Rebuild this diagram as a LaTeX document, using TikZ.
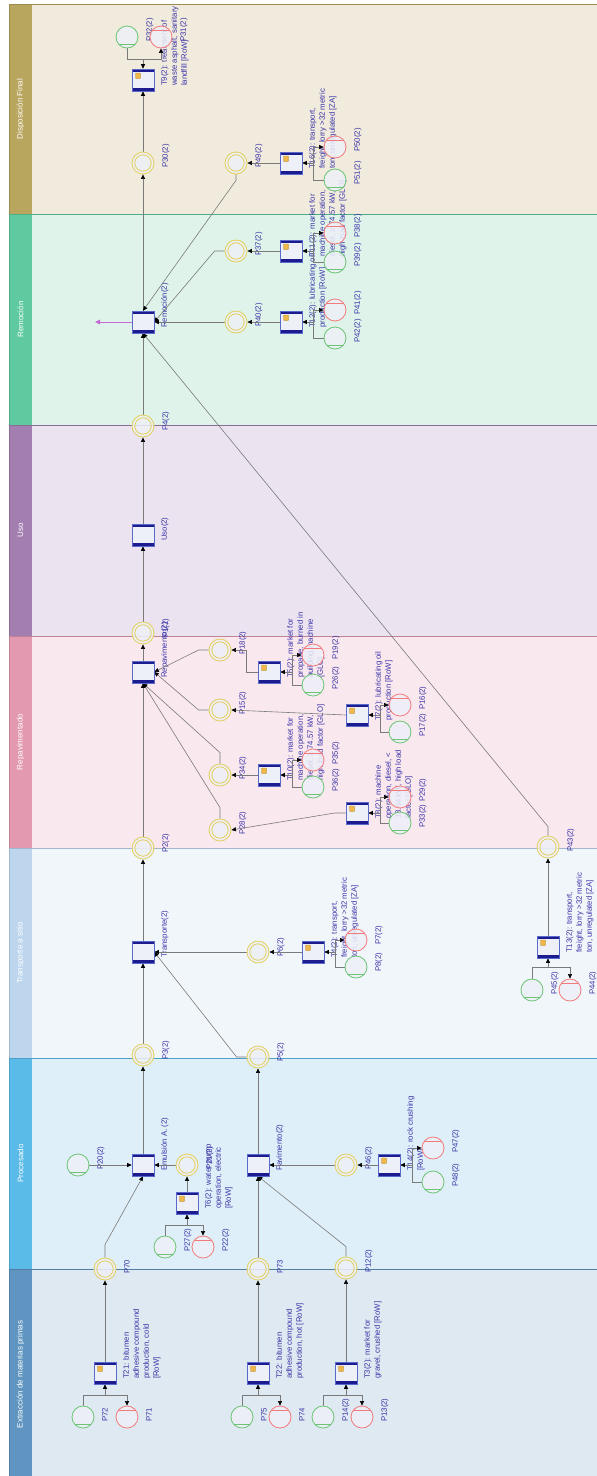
\documentclass[tikz,border=0pt]{standalone}
\usepackage{fontspec}
\setmainfont{Liberation Sans}
\usetikzlibrary{arrows.meta,calc}
\definecolor{plfill}{HTML}{EEF0F8}
\definecolor{yelc}{HTML}{E2CF5C}
\definecolor{grnc}{HTML}{6CC474}
\definecolor{redc}{HTML}{F27A7A}
\definecolor{trc}{HTML}{5A6AC8}
\definecolor{navyc}{HTML}{1C1C90}
\definecolor{icoc}{HTML}{F0B848}
\definecolor{edgec}{HTML}{7A7A7A}
\definecolor{lblc}{HTML}{3A33A8}
\definecolor{purpc}{HTML}{C46AD6}
\definecolor{sDisp}{HTML}{B8A55E}\definecolor{bDisp}{HTML}{F0EBDD}
\definecolor{sRem}{HTML}{5FCAA0}\definecolor{bRem}{HTML}{DFF3EA}
\definecolor{sUso}{HTML}{A27FB0}\definecolor{bUso}{HTML}{ECE3F0}
\definecolor{sRep}{HTML}{E39AB0}\definecolor{bRep}{HTML}{FAE8EF}
\definecolor{sTra}{HTML}{BDD6EE}\definecolor{bTra}{HTML}{F1F6FB}
\definecolor{sPro}{HTML}{5BBBE8}\definecolor{bPro}{HTML}{DFEFF9}
\definecolor{sExt}{HTML}{5F95C0}\definecolor{bExt}{HTML}{DEE9F1}
\pgfdeclarelayer{bglayer}
\pgfdeclarelayer{lbllayer}
\pgfdeclarelayer{edglayer}
\pgfsetlayers{bglayer,lbllayer,edglayer,main}
\newcommand\mybars{%
  \fill[navyc] (path picture bounding box.north west) rectangle ([yshift=-3.2pt]path picture bounding box.north east);
  \fill[navyc] (path picture bounding box.south west) rectangle ([yshift=3.2pt]path picture bounding box.south east);}
\newcommand\mylane[6]{%
  \fill[#5] (9,#2) rectangle (600,#3);
  \fill[#4] (9,#2) rectangle (32,#3);
  \draw[#4!85!black, line width=0.7pt] (9,#2) rectangle (600,#3);
  \node[lanelbl] (#1) at (20.5,{(#2+#3)/2}) {#6};}
\newcommand\myplab[2]{\node[lbl] (l#1) at ($(#1)+(19,5)$) {#2};}
\newcommand\mytlab[2]{\node[lbl] (l#1) at ($(#1)+(18,6)$) {#2};}
\tikzset{
  pl/.style={circle, minimum size=22pt, inner sep=0pt, fill=plfill, fill opacity=0.85, line width=0.8pt},
  yel/.style={pl, draw=yelc, path picture={\draw[yelc, line width=0.8pt] (path picture bounding box.center) circle (8.2pt);}},
  grn/.style={pl, draw=grnc, path picture={\draw[grnc, line width=0.8pt] ([xshift=-12pt,yshift=-7pt]path picture bounding box.center) -- ++(24pt,0pt);}},
  red/.style={pl, draw=redc, path picture={\draw[redc, line width=0.8pt] ([xshift=-12pt,yshift=7pt]path picture bounding box.center) -- ++(24pt,0pt);}},
  tr/.style={rectangle, minimum width=22pt, minimum height=22pt, inner sep=0pt, draw=trc, line width=0.6pt, fill=plfill, path picture={\mybars}},
  tri/.style={tr, path picture={\mybars
     \fill[icoc, draw=icoc!70!black, line width=0.3pt, rounded corners=0.6pt] ([xshift=-7.5pt,yshift=1.5pt]path picture bounding box.center) rectangle ([xshift=-2.5pt,yshift=7pt]path picture bounding box.center);}},
  lbl/.style={rotate=90, anchor=north west, inner sep=0pt, align=left, font=\fontsize{7.8}{10}\selectfont, text=lblc},
  lanelbl/.style={rotate=90, inner sep=0pt, text=white, font=\fontsize{8}{9}\selectfont},
  ln/.style={draw=edgec, line width=0.6pt},
  arr/.style={ln, -{Triangle[length=4.5pt,width=4pt,color=black]}},
  purp/.style={draw=purpc, line width=1pt, -{Triangle[length=5pt,width=4.5pt]}}
}
\begin{document}
\begin{tikzpicture}[x=1pt,y=-1pt]
\useasboundingbox (0,0) rectangle (597,1476);
\begin{pgfonlayer}{bglayer}
\fill[white] (0,0) rectangle (597,1476);
\mylane{lnDisp}{4}{214}{sDisp}{bDisp}{Disposición Final}
\mylane{lnRem}{214}{425}{sRem}{bRem}{Remoción}
\mylane{lnUso}{425}{636}{sUso}{bUso}{Uso}
\mylane{lnRep}{636}{848}{sRep}{bRep}{Repavimentado}
\mylane{lnTra}{848}{1058}{sTra}{bTra}{Transporte a sitio}
\mylane{lnPro}{1058}{1269}{sPro}{bPro}{Procesado}
\mylane{lnExt}{1269}{1480}{sExt}{bExt}{Extracción de materias primas}
\end{pgfonlayer}

% ---------- nodes ----------
\node[tri] (T9) at (143,80) {};
\node[yel] (P30) at (143,163) {};
\node[tr] (Rem) at (143,322) {};
\node[yel] (P4) at (143,426) {};
\node[tr] (Uso) at (143,535) {};
\node[yel] (P1) at (143,633) {};
\node[tr] (Rep) at (143,672) {};
\node[yel] (P2) at (143,848) {};
\node[tr] (Tra) at (143,952) {};
\node[yel] (P3) at (143,1055) {};
\node[tr] (Emu) at (143,1165) {};
\node[yel] (P70) at (105,1269) {};
\node[tri] (T21) at (105,1373) {};
\node[grn] (P72) at (83,1417) {};
\node[red] (P71) at (127,1417) {};
\node[grn] (P20) at (78,1165) {};
\node[yel] (P21) at (187,1165) {};
\node[tri] (T6) at (187,1203) {};
\node[grn] (P27) at (165,1247) {};
\node[red] (P22) at (203,1247) {};
\node[tr] (Pav) at (258,1165) {};
\node[yel] (P5) at (258,1057) {};
\node[yel] (P73) at (258,1269) {};
\node[tri] (T22) at (258,1373) {};
\node[grn] (P75) at (242,1417) {};
\node[red] (P74) at (280,1417) {};
\node[yel] (P46) at (346,1165) {};
\node[tri] (T14) at (389,1165) {};
\node[red] (P47) at (433,1148) {};
\node[grn] (P48) at (433,1182) {};
\node[yel] (P12) at (346,1268) {};
\node[tri] (T3) at (346,1373) {};
\node[grn] (P14) at (323,1417) {};
\node[red] (P13) at (362,1417) {};
\node[yel] (P6) at (258,952) {};
\node[tri] (T4) at (313,952) {};
\node[red] (P7) at (356,940) {};
\node[grn] (P8) at (356,967) {};
\node[tri] (T13) at (548,947) {};
\node[grn] (P45) at (532,990) {};
\node[red] (P44) at (570,990) {};
\node[yel] (P43) at (548,847) {};
\node[yel] (P18) at (220,650) {};
\node[tri] (T5) at (269,672) {};
\node[red] (P19) at (313,655) {};
\node[grn] (P26) at (313,685) {};
\node[yel] (P15) at (220,710) {};
\node[tri] (T7) at (357,715) {};
\node[red] (P16) at (400,705) {};
\node[grn] (P17) at (400,732) {};
\node[yel] (P34) at (220,775) {};
\node[tri] (T10) at (269,775) {};
\node[red] (P35) at (313,760) {};
\node[grn] (P36) at (313,787) {};
\node[yel] (P28) at (220,830) {};
\node[tri] (T8) at (357,813) {};
\node[red] (P29) at (400,797) {};
\node[grn] (P33) at (400,823) {};
\node[yel] (P37) at (236,251) {};
\node[tri] (T11) at (291,251) {};
\node[red] (P38) at (335,233) {};
\node[grn] (P39) at (335,262) {};
\node[yel] (P40) at (236,322) {};
\node[tri] (T12) at (291,322) {};
\node[red] (P41) at (335,310) {};
\node[grn] (P42) at (335,338) {};
\node[yel] (P49) at (236,163) {};
\node[tri] (T16) at (291,163) {};
\node[red] (P50) at (335,147) {};
\node[grn] (P51) at (335,180) {};
\node[grn] (P32) at (127,37) {};
\node[red] (P31) at (161,37) {};

\coordinate (j21) at (105,1395);
\coordinate (j22) at (258,1395);
\coordinate (j3) at (346,1395);
\coordinate (j6) at (187,1225);
\coordinate (j14) at (412,1165);
\coordinate (j4) at (335,952);
\coordinate (j13) at (548,967);
\coordinate (j5) at (292,672);
\coordinate (j7) at (380,715);
\coordinate (j10) at (292,775);
\coordinate (j8) at (380,813);
\coordinate (j11) at (313,251);
\coordinate (j12) at (313,322);
\coordinate (j16) at (313,163);
\coordinate (j9) at (143,59);
\coordinate (remout) at (95,322);

\begin{pgfonlayer}{lbllayer}
\mytlab{T9}{T9(2): treatment of\\waste asphalt, sanitary\\landfill [RoW]}
\mytlab{Rem}{Remoción(2)}
\mytlab{Uso}{Uso(2)}
\mytlab{Rep}{Repavimento(2)}
\mytlab{Tra}{Transporte(2)}
\mytlab{Emu}{Emulsión A. (2)}
\mytlab{Pav}{Pavimento(2)}
\mytlab{T21}{T21: bitumen\\adhesive compound\\production, cold\\{}[RoW]}
\mytlab{T22}{T22: bitumen\\adhesive compound\\production, hot [RoW]}
\mytlab{T3}{T3(2): market for\\gravel, crushed [RoW]}
\mytlab{T6}{T6(2): water pump\\operation, electric\\{}[RoW]}
\mytlab{T14}{T14(2): rock crushing\\{}[RoW]}
\mytlab{T4}{T4(2): transport,\\freight, lorry >32 metric\\ton, unregulated [ZA]}
\mytlab{T13}{T13(2): transport,\\freight, lorry >32 metric\\ton, unregulated [ZA]}
\mytlab{T5}{T5(2): market for\\propane, burned in\\building machine\\{}[GLO]}
\mytlab{T7}{T7(2): lubricating oil\\production [RoW]}
\mytlab{T10}{T10(2): market for\\machine operation,\\diesel, ≥ 74.57 kW,\\high load factor [GLO]}
\mytlab{T8}{T8(2): machine\\operation, diesel, <\\18.64 kW, high load\\factor [GLO]}
\mytlab{T11}{T11(2): market for\\machine operation,\\diesel, ≥ 74.57 kW,\\high load factor [GLO]}
\mytlab{T12}{T12(2): lubricating oil\\production [RoW]}
\mytlab{T16}{T16(2): transport,\\freight, lorry >32 metric\\ton, unregulated [ZA]}
\myplab{P30}{P30(2)}
\myplab{P4}{P4(2)}
\myplab{P1}{P1(2)}
\myplab{P2}{P2(2)}
\myplab{P3}{P3(2)}
\myplab{P70}{P70}
\myplab{P73}{P73}
\myplab{P5}{P5(2)}
\myplab{P6}{P6(2)}
\myplab{P43}{P43(2)}
\myplab{P46}{P46(2)}
\myplab{P12}{P12(2)}
\myplab{P20}{P20(2)}
\myplab{P21}{P21(2)}
\myplab{P18}{P18(2)}
\myplab{P15}{P15(2)}
\myplab{P34}{P34(2)}
\myplab{P28}{P28(2)}
\myplab{P37}{P37(2)}
\myplab{P40}{P40(2)}
\myplab{P49}{P49(2)}
\myplab{P72}{P72}
\myplab{P71}{P71}
\myplab{P75}{P75}
\myplab{P74}{P74}
\myplab{P14}{P14(2)}
\myplab{P13}{P13(2)}
\myplab{P27}{P27(2)}
\myplab{P22}{P22(2)}
\myplab{P48}{P48(2)}
\myplab{P47}{P47(2)}
\myplab{P8}{P8(2)}
\myplab{P7}{P7(2)}
\myplab{P45}{P45(2)}
\myplab{P44}{P44(2)}
\myplab{P26}{P26(2)}
\myplab{P19}{P19(2)}
\myplab{P17}{P17(2)}
\myplab{P16}{P16(2)}
\myplab{P36}{P36(2)}
\myplab{P35}{P35(2)}
\myplab{P33}{P33(2)}
\myplab{P29}{P29(2)}
\myplab{P39}{P39(2)}
\myplab{P38}{P38(2)}
\myplab{P42}{P42(2)}
\myplab{P41}{P41(2)}
\myplab{P51}{P51(2)}
\myplab{P50}{P50(2)}
\myplab{P32}{P32(2)}
\myplab{P31}{P31(2)}
\end{pgfonlayer}

\begin{pgfonlayer}{edglayer}
\draw[ln] (P72.north) |- (j21);
\draw[arr] (j21) -- (T21.south);
\draw[arr] (j21) -| (P71.north);
\draw[arr] (T21) -- (P70);
\draw[ln] (P75.north) |- (j22);
\draw[arr] (j22) -- (T22.south);
\draw[arr] (j22) -| (P74.north);
\draw[arr] (T22) -- (P73);
\draw[ln] (P14.north) |- (j3);
\draw[arr] (j3) -- (T3.south);
\draw[arr] (j3) -| (P13.north);
\draw[arr] (T3) -- (P12);
\draw[arr] (P70.north) -- ++(0,-13) -- (Emu.south);
\draw[arr] (P73) -- (Pav);
\draw[arr] (P12.north) -- ++(0,-10) -- (Pav.south);
\draw[arr] (P20) -- (Emu);
\draw[arr] (P21) -- (Emu);
\draw[arr] (T6) -- (P21);
\draw[ln] (P27.north) |- (j6);
\draw[arr] (j6) -- (T6.south);
\draw[arr] (j6) -| (P22.north);
\draw[arr] (Emu) -- (P3);
\draw[arr] (Pav) -- (P5);
\draw[arr] (P46) -- (Pav);
\draw[arr] (T14) -- (P46);
\draw[ln] (P48.west) -| (j14);
\draw[arr] (j14) -- (T14.east);
\draw[arr] (j14) |- (P47.west);
\draw[arr] (P3) -- (Tra);
\draw[arr] (P5.west) -- ++(-10,0) -- (Tra.east);
\draw[arr] (P6) -- (Tra);
\draw[arr] (T4) -- (P6);
\draw[ln] (P8.west) -| (j4);
\draw[arr] (j4) -- (T4.east);
\draw[arr] (j4) |- (P7.west);
\draw[arr] (Tra) -- (P2);
\draw[ln] (P45.north) |- (j13);
\draw[arr] (j13) -- (T13.south);
\draw[arr] (j13) -| (P44.north);
\draw[arr] (T13) -- (P43);
\draw[arr] (P43.north) -- ++(0,-9) -- (Rem.south);
\draw[arr] (P2) -- (Rep);
\draw[arr] (P18.west) -- ++(-10,0) -- (Rep.east);
\draw[arr] (T5.west) -- ++(-11,0) |- (P18.east);
\draw[ln] (P26.west) -| (j5);
\draw[arr] (j5) -- (T5.east);
\draw[arr] (j5) |- (P19.west);
\draw[arr] (P15.west) -- ++(-10,0) -- (Rep.east);
\draw[arr] (T7.west) -- (P15.east);
\draw[ln] (P17.west) -| (j7);
\draw[arr] (j7) -- (T7.east);
\draw[arr] (j7) |- (P16.west);
\draw[arr] (T10) -- (P34);
\draw[arr] (P34.north) -- ++(0,-11) -- (Rep.south);
\draw[ln] (P36.west) -| (j10);
\draw[arr] (j10) -- (T10.east);
\draw[arr] (j10) |- (P35.west);
\draw[arr] (T8.west) -- ++(-11,0) -- (P28.east);
\draw[arr] (P28.north) -- ++(0,-11) -- (Rep.south);
\draw[ln] (P33.west) -| (j8);
\draw[arr] (j8) -- (T8.east);
\draw[arr] (j8) |- (P29.west);
\draw[arr] (Rep) -- (P1);
\draw[arr] (P1) -- (Uso);
\draw[arr] (Uso) -- (P4);
\draw[arr] (P4) -- (Rem);
\draw[arr] (T12) -- (P40);
\draw[arr] (P40) -- (Rem);
\draw[ln] (P42.west) -| (j12);
\draw[arr] (j12) -- (T12.east);
\draw[arr] (j12) |- (P41.west);
\draw[arr] (T11) -- (P37);
\draw[arr] (P37.west) -- ++(-10,0) -- (Rem.east);
\draw[ln] (P39.west) -| (j11);
\draw[arr] (j11) -- (T11.east);
\draw[arr] (j11) |- (P38.west);
\draw[purp] (Rem.west) -- (remout);
\draw[arr] (Rem) -- (P30);
\draw[arr] (P49.south) -- ++(0,6) -- (Rem.north);
\draw[arr] (T16) -- (P49);
\draw[ln] (P51.west) -| (j16);
\draw[arr] (j16) -- (T16.east);
\draw[arr] (j16) |- (P50.west);
\draw[arr] (P30) -- (T9);
\draw[ln] (P32.south) |- (j9);
\draw[arr] (j9) -- (T9.north);
\draw[arr] (j9) -| (P31.south);
\end{pgfonlayer}
\end{tikzpicture}
\end{document}
